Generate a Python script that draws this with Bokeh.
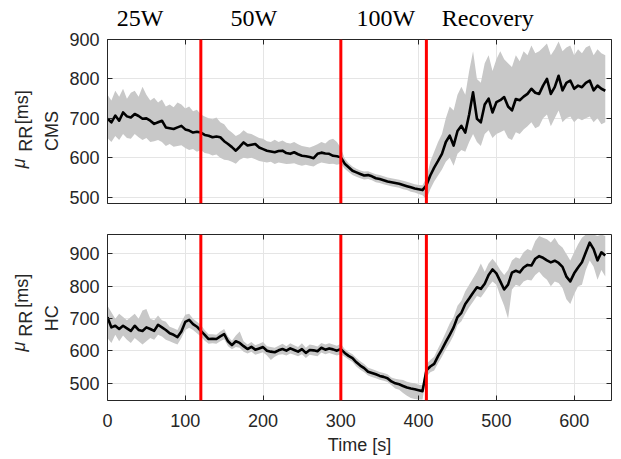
from bokeh.plotting import figure
from bokeh.layouts import column
from bokeh.models import Span, LinearAxis, FixedTicker, Range1d
from bokeh.embed import file_html
from bokeh.resources import INLINE

# ---------------- data ----------------
time_s = [0, 5, 10, 15, 20, 25, 30, 35, 40, 45,
          50, 55, 60, 65, 70, 75, 80, 85, 90, 95,
          100, 105, 110, 115, 120, 125, 130, 135, 140, 145,
          150, 155, 160, 165, 170, 175, 180, 185, 190, 195,
          200, 205, 210, 215, 220, 225, 230, 235, 240, 245,
          250, 255, 260, 265, 270, 275, 280, 285, 290, 295,
          300, 305, 310, 315, 320, 325, 330, 335, 340, 345,
          350, 355, 360, 365, 370, 375, 380, 385, 390, 395,
          400, 405, 410, 415, 420, 425, 430, 435, 440, 445,
          450, 455, 460, 465, 470, 475, 480, 485, 490, 495,
          500, 505, 510, 515, 520, 525, 530, 535, 540, 545,
          550, 555, 560, 565, 570, 575, 580, 585, 590, 595,
          600, 605, 610, 615, 620, 625, 630, 635, 640]

cms_mean = [699, 690, 707, 694, 715, 705, 702, 711, 706, 699,
            700, 694, 686, 690, 694, 677, 675, 673, 677, 681,
            672, 669, 664, 666, 664, 658, 656, 652, 654, 652,
            642, 635, 627, 618, 628, 639, 631, 633, 635, 626,
            622, 618, 616, 614, 617, 618, 612, 610, 614, 609,
            605, 604, 602, 599, 610, 613, 611, 610, 605, 604,
            601, 585, 576, 567, 563, 559, 555, 556, 553, 548,
            546, 543, 540, 538, 536, 534, 531, 528, 525, 522,
            520, 518, 530, 555, 575, 592, 610, 640, 656, 631,
            668, 681, 664, 710, 766, 699, 690, 735, 750, 715,
            741, 746, 754, 730, 720, 749, 746, 755, 762, 775,
            765, 762, 783, 800, 762, 779, 808, 771, 790, 796,
            775, 783, 779, 790, 796, 771, 783, 775, 770]

cms_upper = [760, 745, 770, 755, 775, 750, 765, 770, 755, 780,
             760, 745, 752, 740, 748, 730, 735, 728, 740, 735,
             725, 730, 718, 722, 710, 705, 700, 698, 702, 690,
             685, 672, 664, 655, 660, 670, 662, 660, 655, 650,
             648, 642, 640, 646, 640, 644, 638, 636, 640, 634,
             630, 628, 626, 630, 634, 640, 636, 645, 648, 640,
             625, 598, 586, 578, 572, 568, 565, 566, 562, 558,
             556, 553, 550, 548, 546, 544, 542, 539, 536, 533,
             531, 530, 548, 590, 615, 640, 660, 700, 730, 720,
             760, 780, 760, 820, 870, 800, 790, 840, 860, 820,
             850, 870, 850, 840, 830, 860, 845, 870, 860, 885,
             865, 870, 880, 890, 860, 875, 895, 870, 880, 885,
             860, 875, 865, 880, 885, 860, 875, 865, 860]

cms_lower = [650, 640, 655, 645, 660, 650, 648, 660, 652, 645,
             650, 640, 642, 645, 640, 630, 635, 628, 630, 632,
             625, 620, 622, 615, 620, 612, 610, 606, 608, 600,
             595, 594, 590, 585, 595, 600, 598, 600, 596, 592,
             590, 588, 590, 584, 588, 586, 584, 585, 586, 582,
             580, 582, 580, 578, 584, 588, 586, 584, 585, 582,
             585, 572, 564, 556, 552, 548, 545, 546, 543, 538,
             536, 533, 530, 528, 526, 524, 520, 518, 514, 512,
             508, 505, 495, 520, 540, 555, 570, 590, 600, 580,
             610, 620, 615, 640, 660, 640, 630, 660, 670, 650,
             660, 665, 670, 650, 645, 665, 660, 672, 680, 690,
             675, 680, 700, 710, 680, 700, 720, 690, 700, 705,
             690, 700, 695, 700, 705, 690, 700, 685, 690]

hc_mean = [704, 673, 678, 668, 678, 670, 662, 678, 665, 662,
           673, 668, 662, 681, 673, 665, 655, 650, 643, 660,
           690, 696, 683, 675, 662, 650, 637, 638, 637, 645,
           652, 630, 618, 630, 625, 615, 606, 613, 604, 608,
           612, 601, 598, 596, 602, 606, 601, 608, 603, 598,
           606, 594, 603, 602, 599, 610, 604, 608, 605, 601,
           606, 594, 585, 578, 565, 555, 547, 536, 532, 528,
           523, 520, 516, 506, 500, 497, 492, 487, 484, 482,
           479, 476, 540, 552, 560, 584, 605, 628, 650, 673,
           705, 718, 745, 762, 780, 797, 792, 808, 835, 852,
           840, 815, 790, 805, 842, 848, 843, 858, 866, 864,
           885, 893, 888, 880, 874, 879, 872, 860, 830, 815,
           840, 858, 874, 905, 935, 915, 880, 905, 895]

hc_upper = [740, 720, 700, 715, 705, 695, 705, 715, 700, 725,
            730, 700, 695, 710, 695, 690, 675, 670, 665, 690,
            712, 715, 700, 690, 680, 665, 652, 652, 650, 660,
            668, 645, 632, 648, 660, 630, 620, 628, 618, 622,
            628, 615, 612, 610, 616, 622, 615, 624, 618, 612,
            624, 610, 620, 618, 614, 625, 620, 624, 620, 616,
            622, 606, 597, 590, 578, 568, 560, 548, 544, 540,
            535, 532, 528, 518, 514, 512, 510, 505, 502, 500,
            496, 494, 560, 572, 582, 608, 632, 658, 685, 705,
            740, 755, 785, 805, 825, 845, 870, 845, 870, 885,
            870, 850, 835, 850, 880, 890, 885, 905, 915, 910,
            940, 955, 950, 945, 935, 950, 930, 920, 900, 880,
            905, 930, 950, 960, 960, 960, 955, 960, 955]

hc_lower = [640, 625, 650, 630, 648, 635, 625, 640, 630, 620,
            630, 640, 635, 650, 645, 635, 630, 625, 620, 640,
            665, 672, 665, 655, 645, 632, 622, 624, 622, 630,
            636, 615, 605, 612, 610, 598, 592, 598, 588, 592,
            596, 586, 572, 582, 588, 590, 586, 592, 588, 584,
            590, 578, 588, 586, 584, 595, 590, 594, 590, 586,
            590, 582, 574, 566, 552, 542, 534, 524, 520, 516,
            511, 508, 504, 494, 484, 480, 470, 462, 455, 452,
            450, 450, 520, 534, 540, 562, 582, 605, 625, 648,
            680, 692, 715, 735, 752, 770, 765, 782, 800, 815,
            805, 770, 740, 700, 790, 805, 800, 815, 820, 818,
            835, 845, 830, 820, 800, 815, 810, 795, 760, 745,
            775, 800, 805, 850, 880, 860, 820, 850, 830]

stage_bounds = [120, 300, 410]
stage_names = ["25W", "50W", "100W", "Recovery"]
x_ticks = [0, 100, 200, 300, 400, 500, 600]
y_ticks = [500, 600, 700, 800, 900]

# ---------------- styling ----------------
AX = "#262626"
SANS = "Liberation Sans"
SERIF = "Liberation Serif"
BAND = "#c8c8c8"


def tick_axis(ticks, show_labels, standoff=0):
    ax = LinearAxis(ticker=FixedTicker(ticks=ticks))
    ax.axis_line_color = AX
    ax.axis_line_width = 1
    ax.major_tick_line_color = AX
    ax.major_tick_line_width = 1
    ax.major_tick_in = 5
    ax.major_tick_out = 0
    ax.minor_tick_line_color = None
    ax.major_label_text_font = SANS
    ax.major_label_standoff = standoff
    if show_labels:
        ax.major_label_text_font_size = "18px"
        ax.major_label_text_color = AX
    else:
        ax.major_label_text_font_size = "0px"
        ax.major_label_text_color = None
    return ax


def text_axis(ticks, texts, standoff, orientation, font=SANS, size="18px",
              style="normal", color=AX):
    ax = LinearAxis(ticker=FixedTicker(ticks=ticks))
    ax.major_label_overrides = {t: s for t, s in zip(ticks, texts)}
    ax.axis_line_color = None
    ax.major_tick_line_color = None
    ax.major_tick_in = 0
    ax.major_tick_out = 0
    ax.minor_tick_line_color = None
    ax.major_label_standoff = standoff
    ax.major_label_orientation = orientation
    ax.major_label_text_font = font
    ax.major_label_text_font_size = size
    ax.major_label_text_font_style = style
    ax.major_label_text_color = color
    return ax


def make_panel(mean, upper, lower, y_lo, y_hi, frame_h, border_top, border_bottom,
               x_labels, group_name, y_name, y_rr, y_mu, y_ms):
    p = figure(frame_width=504, frame_height=frame_h,
               x_range=Range1d(0, 648), y_range=Range1d(y_lo, y_hi),
               x_axis_location=None, y_axis_location=None,
               output_backend="svg", toolbar_location=None,
               min_border_left=107, min_border_right=2,
               min_border_top=border_top, min_border_bottom=border_bottom)
    p.outline_line_color = None
    p.background_fill_color = "white"
    p.border_fill_color = "white"

    # left side: tick axis, then the stacked label pieces
    p.add_layout(tick_axis(y_ticks, True, 8), "left")
    p.add_layout(text_axis([y_name], [group_name], 4, "vertical"), "left")
    p.add_layout(text_axis([y_rr], ["RR"], 3, "vertical"), "left")
    p.add_layout(text_axis([y_ms], ["[ms]"], -19, "vertical"), "left")
    p.add_layout(text_axis([y_mu], ["\u03bc"], -20, "vertical", style="italic"), "left")

    below = tick_axis(x_ticks, x_labels, 13 if x_labels else 0)
    p.add_layout(below, "below")
    p.add_layout(tick_axis(y_ticks, False), "right")
    p.add_layout(tick_axis(x_ticks, False), "above")

    p.varea(x=time_s, y1=lower, y2=upper, fill_color=BAND, fill_alpha=1.0)
    p.line(time_s, mean, line_color="black", line_width=2.6, line_join="round")

    for b in stage_bounds:
        p.add_layout(Span(location=b, dimension="height", line_color="#ff0000", line_width=3))
    return p, below


# top panel (CMS)
p1, _ = make_panel(cms_mean, cms_upper, cms_lower, 484, 900, 164, 39, 10, False,
                   "CMS", 668, 648, 586, 728)
stage_x = [42, 188, 358, 489]
p1.add_layout(text_axis(stage_x, stage_names, 9, "horizontal", font=SERIF,
                        size="24px", color="black"), "above")

# bottom panel (HC)
p2, below2 = make_panel(hc_mean, hc_upper, hc_lower, 447, 960, 166, 21, 58, True,
                        "HC", 701, 684, 614, 786)
below2.axis_label = "Time [s]"
below2.axis_label_text_font = SANS
below2.axis_label_text_font_size = "18px"
below2.axis_label_text_font_style = "normal"
below2.axis_label_text_color = AX
below2.axis_label_standoff = 5

layout = column(p1, p2, spacing=0)

open("out.html", "w").write(file_html(layout, INLINE))
